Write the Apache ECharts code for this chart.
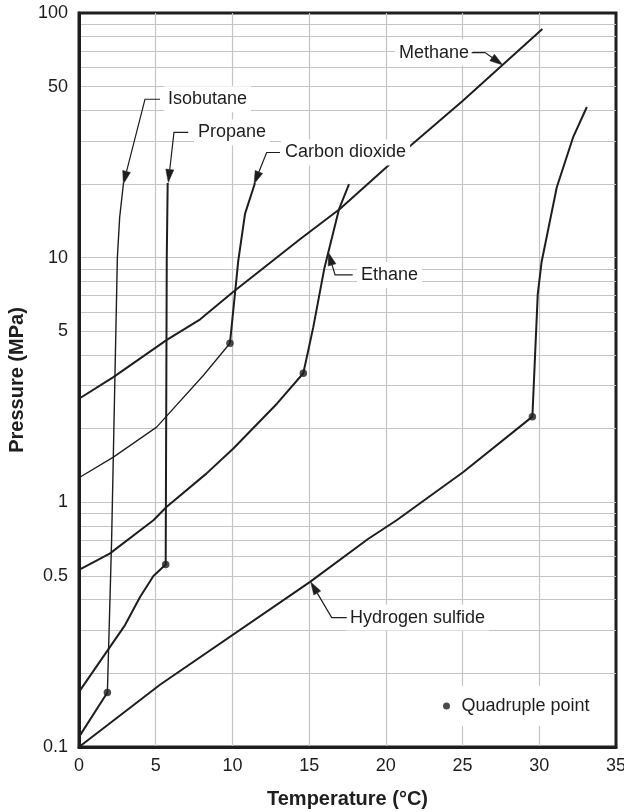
<!DOCTYPE html>
<html><head><meta charset="utf-8">
<script src="https://cdn.jsdelivr.net/npm/echarts@6/dist/echarts.min.js"></script>
<style>html,body{margin:0;padding:0;background:#fff}#c{width:624px;height:812px}</style>
</head><body><div id="c"></div>
<script>
// ---- data (temperature °C, pressure MPa) ----
const xTickValues = [0, 5, 10, 15, 20, 25, 30, 35];
const yTickLabels = [0.1, 0.5, 1, 5, 10, 50, 100];
const yGridValues = [0.1, 0.2, 0.3, 0.4, 0.5, 0.6, 0.7, 0.8, 0.9,
  1, 2, 3, 4, 5, 6, 7, 8, 9, 10, 20, 30, 40, 50, 60, 70, 80, 90, 100];

const methane = [[0, 2.65], [2.24, 3.25], [5.7, 4.6], [7.9, 5.6], [10, 7.2], [14.4, 11.9], [17, 15.8], [21.6, 28.7], [25, 43.7], [30.2, 86]];
const isobutaneLower = [[0, 0.11], [1.85, 0.167]];
const isobutaneUpper = [[1.85, 0.167], [2.13, 0.72], [2.5, 10], [2.65, 14.6], [2.9, 20.2]];
const propane = [[0, 0.168], [3.0, 0.315], [3.98, 0.41], [4.85, 0.5], [5.65, 0.557], [5.72, 10], [5.78, 20.2]];
const co2Lower = [[0, 1.26], [2.24, 1.53], [5.06, 2.03], [8.1, 3.3], [9.84, 4.47]];
const co2Upper = [[9.84, 4.47], [10.38, 9.7], [10.82, 15.1], [11.47, 20.2]];
const ethane = [[0, 0.53], [2, 0.617], [4.85, 0.845], [5.7, 0.957], [8.3, 1.31], [10.06, 1.66], [12.9, 2.53], [14.62, 3.37], [15.27, 5.2], [16.0, 9.1], [16.95, 15.8], [17.6, 20]];
const h2s = [[0, 0.1], [5.3, 0.18], [15.06, 0.473], [18.86, 0.71], [20.7, 0.845], [25.05, 1.33], [29.55, 2.24], [29.9, 7.1], [30.15, 9.6], [31.14, 19.4], [32.2, 31], [33.1, 41.3]];
const quadruplePoints = [[1.85, 0.167], [5.65, 0.557], [9.84, 4.47], [14.62, 3.37], [29.55, 2.24]];

// annotation labels: [tipT, tipP, elbowT, elbowP, endT, endP, textT, textP]
const labelNames = ['Isobutane', 'Propane', 'Carbon dioxide', 'Methane', 'Ethane', 'Hydrogen sulfide'];
const labelAnchors = [
  [2.89, 20.0, 4.30, 44.4, 5.28, 44.4, 5.80, 44.4],
  [5.82, 20.3, 6.19, 32.5, 7.12, 32.5, 7.76, 32.5],
  [11.41, 20.0, 12.23, 26.9, 13.10, 26.9, 13.43, 26.9],
  [27.62, 61.3, 26.46, 68.9, 25.59, 68.9, 25.42, 68.9],
  [16.25, 10.5, 16.69, 8.5, 17.84, 8.5, 18.38, 8.5],
  [15.10, 0.473, 16.47, 0.338, 17.45, 0.338, 17.66, 0.338]
];
const labelAlign = ['left', 'left', 'left', 'right', 'left', 'left'];

// ---- styling ----
const INK = '#1e1e1e';
const GRID = '#c4c4c4';
const FONT = '"Liberation Sans", Arial, Helvetica, sans-serif';

function curve(name, data, width) {
  return { type: 'line', name: name, data: data, symbol: 'none', showSymbol: false, smooth: false,
    lineStyle: { color: INK, width: width }, z: 3, silent: true };
}

const chart = echarts.init(document.getElementById('c'), null, { renderer: 'canvas' });
chart.setOption({
  animation: false,
  backgroundColor: '#fff',
  textStyle: { fontFamily: FONT },
  grid: { left: 79, right: 8, top: 13, bottom: 65, show: true, borderColor: INK, borderWidth: 3, containLabel: false, outerBoundsMode: 'none' },
  legend: {
    data: [{ name: 'Quadruple point', icon: 'circle' }],
    left: 437, top: 686, itemWidth: 20, itemHeight: 7, backgroundColor: '#fff', padding: [11, 6, 11, 6],
    textStyle: { fontSize: 18, color: INK, fontFamily: FONT }, selectedMode: false
  },
  xAxis: {
    type: 'value', min: 0, max: 35, interval: 5,
    axisLine: { show: true, lineStyle: { color: INK, width: 3 } },
    axisTick: { show: false },
    axisLabel: { margin: 10, fontSize: 18, color: INK, fontFamily: FONT, customValues: xTickValues },
    splitLine: { show: true, showMinLine: false, showMaxLine: false, lineStyle: { color: GRID, width: 1.2 } },
    name: 'Temperature (°C)', nameLocation: 'middle', nameGap: 42,
    nameTextStyle: { fontSize: 20, fontWeight: 'bold', color: INK, fontFamily: FONT }
  },
  yAxis: {
    type: 'log', logBase: 10, min: 0.1, max: 100,
    axisLine: { show: true, lineStyle: { color: INK, width: 3 } },
    axisTick: { show: false, customValues: yGridValues },
    axisLabel: { margin: 11, fontSize: 18, color: INK, fontFamily: FONT, customValues: yTickLabels,
      formatter: function (v) { return String(+(+v).toPrecision(3)); } },
    splitLine: { show: true, showMinLine: false, showMaxLine: false, lineStyle: { color: GRID, width: 1.2 } },
    name: 'Pressure (MPa)', nameLocation: 'middle', nameGap: 50,
    nameTextStyle: { fontSize: 20, fontWeight: 'bold', color: INK, fontFamily: FONT }
  },
  series: [
    curve('Methane', methane, 2),
    curve('Isobutane lower', isobutaneLower, 2),
    curve('Isobutane upper', isobutaneUpper, 1.4),
    curve('Propane', propane, 2),
    curve('Carbon dioxide lower', co2Lower, 1.3),
    curve('Carbon dioxide upper', co2Upper, 2),
    curve('Ethane', ethane, 2),
    curve('Hydrogen sulfide', h2s, 2),
    {
      type: 'scatter', name: 'Quadruple point', data: quadruplePoints, symbol: 'circle', symbolSize: 7.5,
      itemStyle: { color: INK }, z: 5, silent: true
    },
    {
      type: 'custom', name: 'labels', data: labelAnchors, z: 6, silent: true,
      renderItem: function (params, api) {
        const i = params.dataIndex;
        const tip = api.coord([api.value(0), api.value(1)]);
        const elbow = api.coord([api.value(2), api.value(3)]);
        const end = api.coord([api.value(4), api.value(5)]);
        const tp = api.coord([api.value(6), api.value(7)]);
        const dx = tip[0] - elbow[0], dy = tip[1] - elbow[1];
        const L = Math.hypot(dx, dy) || 1;
        const ux = dx / L, uy = dy / L;
        const len = 13, hw = 4;
        const base = [tip[0] - ux * len, tip[1] - uy * len];
        const p1 = [base[0] - uy * hw, base[1] + ux * hw];
        const p2 = [base[0] + uy * hw, base[1] - ux * hw];
        const align = labelAlign[i];
        const pad = 4;
        return {
          type: 'group',
          children: [
            { type: 'text', z2: 1, style: { text: labelNames[i], x: tp[0] + (align === 'left' ? -pad : pad), y: tp[1],
              align: align, verticalAlign: 'middle', fill: INK, font: '18px ' + FONT,
              backgroundColor: '#fff', padding: [4, pad, 4, pad] } },
            { type: 'polyline', z2: 2, shape: { points: [end, elbow, base] }, style: { stroke: INK, lineWidth: 1.2, fill: null } },
            { type: 'polygon', z2: 2, shape: { points: [tip, p1, p2] }, style: { fill: INK, stroke: INK, lineWidth: 0.5 } }
          ]
        };
      }
    }
  ]
});
</script>
</body></html>
